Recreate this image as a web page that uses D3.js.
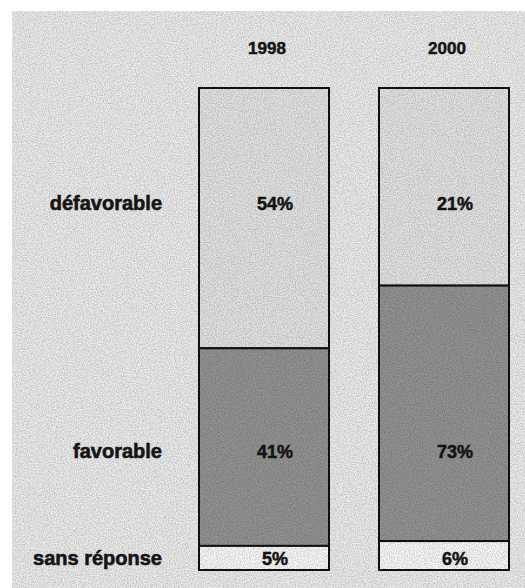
<!DOCTYPE html>
<html>
<head>
<meta charset="utf-8">
<script src="https://cdn.jsdelivr.net/npm/d3@7"></script>
<style>
  html, body { margin: 0; padding: 0; background: #fff; }
  svg { display: block; }
</style>
</head>
<body>
<svg id="chart"></svg>
<script>
// data
var years = ["1998", "2000"];
var categories = ["défavorable", "favorable", "sans réponse"];
// percentages printed inside the bars
var printed_1998 = [54, 41, 5];
var printed_2000 = [21, 73, 6];
// segment heights as actually drawn (the 2000 bar is not to scale in the original)
var drawn_1998 = [54, 41, 5];
var drawn_2000 = [41, 53, 6];

var width = 525, height = 588;
var seg_colors = ["#e6e6e6", "#959595", "#fcfcfc"];
var row_baseline = [210, 458, 565]; // text rows, shared by labels and percents

const svg = d3.select("svg")
    .attr("width", width)
    .attr("height", height)
    .attr("font-family", "'Liberation Sans', Arial, Helvetica, sans-serif")
    .attr("font-weight", "bold");

// paper grain
var defs = svg.append("defs");
var grain = defs.append("filter").attr("id", "grain")
    .attr("x", 0).attr("y", 0).attr("width", "100%").attr("height", "100%");
grain.append("feTurbulence")
    .attr("type", "fractalNoise")
    .attr("baseFrequency", 0.85)
    .attr("numOctaves", 2)
    .attr("seed", 3)
    .attr("result", "noise");
grain.append("feColorMatrix")
    .attr("type", "matrix")
    .attr("values", "0 0 0 0 0  0 0 0 0 0  0 0 0 0 0  0 0 0 0.4 -0.12");

// grey page panel
svg.append("rect")
    .attr("x", 12).attr("y", 11)
    .attr("width", width - 12).attr("height", height - 11)
    .attr("fill", "#efefef");

var x = d3.scaleBand()
    .domain(years)
    .range([199, 509])
    .paddingInner(50 / 180)
    .paddingOuter(0);

var y = d3.scaleLinear()
    .domain([0, 100])
    .range([88, 570]);

var table = years.map(function(yr, i) {
    var drawn = i == 0 ? drawn_1998 : drawn_2000;
    var printed = i == 0 ? printed_1998 : printed_2000;
    var acc = 0;
    return categories.map(function(c, j) {
        var seg = {year: yr, cat: c, idx: j, start: acc, end: acc + drawn[j], pct: printed[j]};
        acc += drawn[j];
        return seg;
    });
});

var bars = svg.append("g")
  .selectAll("g")
    .data(table)
    .join("g");

bars.selectAll("rect")
    .data(d => d)
    .join("rect")
      .attr("x", d => x(d.year))
      .attr("y", d => y(d.start))
      .attr("width", x.bandwidth())
      .attr("height", d => y(d.end) - y(d.start))
      .attr("fill", d => seg_colors[d.idx])
      .attr("stroke", "#111")
      .attr("stroke-width", 2);

// grain over the printed area
svg.append("rect")
    .attr("x", 12).attr("y", 11)
    .attr("width", width - 12).attr("height", height - 11)
    .attr("filter", "url(#grain)")
    .attr("fill", "#000")
    .style("pointer-events", "none");

// percent labels
bars.selectAll("text")
    .data(d => d)
    .join("text")
      .attr("x", d => x(d.year) + x.bandwidth() / 2 + 11)
      .attr("y", d => row_baseline[d.idx])
      .attr("text-anchor", "middle")
      .attr("font-size", 18)
      .attr("fill", "#151515")
      .attr("stroke", "#151515")
      .attr("stroke-width", 0.5)
      .text(d => d.pct + "%");

// year headers
svg.append("g")
  .selectAll("text")
    .data(years)
    .join("text")
      .attr("x", d => x(d) + x.bandwidth() / 2 + 3)
      .attr("y", 54)
      .attr("text-anchor", "middle")
      .attr("font-size", 17)
      .attr("fill", "#151515")
      .attr("stroke", "#151515")
      .attr("stroke-width", 0.5)
      .text(d => d);

// category labels on the left
svg.append("g")
  .selectAll("text")
    .data(categories)
    .join("text")
      .attr("x", 162)
      .attr("y", (d, i) => row_baseline[i])
      .attr("text-anchor", "end")
      .attr("font-size", 20)
      .attr("fill", "#151515")
      .attr("stroke", "#151515")
      .attr("stroke-width", 0.6)
      .text(d => d);
</script>
</body>
</html>
